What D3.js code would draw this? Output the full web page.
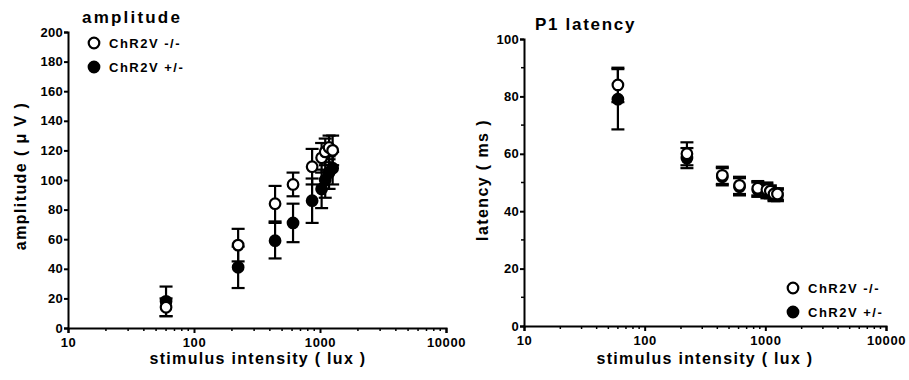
<!DOCTYPE html>
<html>
<head>
<meta charset="utf-8">
<script src="https://cdn.jsdelivr.net/npm/d3@7"></script>
<style>
  body { margin: 0; background: #fff; }
  svg text { font-family: "Liberation Sans", Arial, sans-serif; font-weight: bold; fill: #000; }
</style>
</head>
<body>
<div id="chart"></div>
<script>
// stimulus intensities (lux)
const intensity = [60, 224, 440, 611, 866, 1030, 1100, 1180, 1260];

// amplitude (uV), mean and error
const ampKO = [14, 56, 84, 97, 109, 115, 119, 122, 120];
const ampKOErr = [6, 11, 12, 8, 12, 10, 9, 8, 10];
const ampHet = [18, 41, 59, 71, 86, 94, 100, 105, 108];
const ampHetErr = [10, 14, 12, 13, 15, 13, 12, 11, 11];

// P1 latency (ms), mean and error
const latKO = [84, 60, 52.5, 49, 48, 47.5, 47, 46, 46];
const latKOErr = [6, 4, 3, 3, 2.5, 2.5, 2, 2, 2];
const latHet = [79, 58.5, 52, 48.5, 47.5, 47, 46.5, 45.5, 45.5];
const latHetErr = [10.5, 3.5, 3, 3, 2.5, 2.5, 2, 2, 2];

const xTicks = [10, 100, 1000, 10000];
const legendLabels = ["ChR2V -/-", "ChR2V +/-"];

const svg = d3.select('#chart').append('svg')
  .attr('width', 909)
  .attr('height', 380);

function panel(cfg) {
  const x = d3.scaleLog().domain([10, 10000]).range([cfg.x0, cfg.x1]);
  const y = d3.scaleLinear().domain([0, cfg.yMax]).range([cfg.y0, cfg.y1]);
  const g = svg.append('g');

  // x axis with log minor ticks
  const xa = g.append('g').attr('transform', `translate(0,${cfg.y0})`)
    .call(d3.axisBottom(x).tickValues(xTicks).tickFormat(d3.format('d')).tickSize(5).tickPadding(5));
  xa.selectAll('.tick text').attr('font-size', 13).attr('letter-spacing', 0.6);
  const minors = [];
  for (let d = 10; d < 10000; d *= 10) for (let k = 2; k < 10; k++) minors.push(d * k);
  xa.selectAll('.minor').data(minors).join('line')
    .attr('x1', d => x(d)).attr('x2', d => x(d))
    .attr('y1', 0).attr('y2', 3).attr('stroke', '#000').attr('stroke-width', 1.5);

  // y axis
  const ya = g.append('g').attr('transform', `translate(${cfg.x0},0)`)
    .call(d3.axisLeft(y).tickValues(d3.range(0, cfg.yMax + 1, cfg.yStep)).tickSize(4).tickPadding(1));
  ya.selectAll('.tick text').attr('font-size', 13).attr('letter-spacing', 0.3);
  if (cfg.yMinor) {
    ya.selectAll('.minor').data(d3.range(cfg.yMinor, cfg.yMax, cfg.yStep)).join('line')
      .attr('y1', d => y(d)).attr('y2', d => y(d))
      .attr('x1', 0).attr('x2', -3).attr('stroke', '#000').attr('stroke-width', 1.5);
  }
  g.selectAll('.domain').attr('stroke-width', 2);
  g.selectAll('.tick line').attr('stroke-width', 2);

  // error bars + markers
  const series = [
    { vals: cfg.het, err: cfg.hetErr, fill: '#000' },
    { vals: cfg.ko, err: cfg.koErr, fill: '#fff' }
  ];
  series.forEach(s => {
    const data = intensity.map((v, i) => ({ x: v, y: s.vals[i], e: s.err[i] }));
    const eg = g.append('g').attr('stroke', '#000').attr('stroke-width', 2.2);
    eg.selectAll('.v').data(data).join('line')
      .attr('x1', d => x(d.x)).attr('x2', d => x(d.x))
      .attr('y1', d => y(d.y - d.e)).attr('y2', d => y(d.y + d.e));
    eg.selectAll('.t').data(data).join('line')
      .attr('x1', d => x(d.x) - 6.5).attr('x2', d => x(d.x) + 6.5)
      .attr('y1', d => y(d.y + d.e)).attr('y2', d => y(d.y + d.e));
    eg.selectAll('.b').data(data).join('line')
      .attr('x1', d => x(d.x) - 6.5).attr('x2', d => x(d.x) + 6.5)
      .attr('y1', d => y(d.y - d.e)).attr('y2', d => y(d.y - d.e));
  });
  series.forEach(s => {
    const data = intensity.map((v, i) => ({ x: v, y: s.vals[i] }));
    g.append('g').selectAll('circle').data(data).join('circle')
      .attr('cx', d => x(d.x)).attr('cy', d => y(d.y))
      .attr('r', 5.3).attr('fill', s.fill).attr('stroke', '#000').attr('stroke-width', 2.2);
  });

  // titles and labels
  g.append('text').attr('x', cfg.titleX).attr('y', cfg.titleY)
    .attr('font-size', 17).attr('letter-spacing', cfg.titleLs).text(cfg.title);
  g.append('text')
    .attr('transform', `translate(${cfg.yLabX},${cfg.yLabY}) rotate(-90)`)
    .attr('text-anchor', 'middle').attr('font-size', 16).attr('letter-spacing', 1.4).text(cfg.yLabel);
  g.append('text').attr('x', cfg.xLabX).attr('y', 364)
    .attr('text-anchor', 'middle').attr('font-size', 16).attr('letter-spacing', 1.3)
    .text('stimulus intensity ( lux )');

  // legend
  legendLabels.forEach((lab, i) => {
    const ly = cfg.legY + i * 24;
    g.append('circle').attr('cx', cfg.legX).attr('cy', ly).attr('r', 5.3)
      .attr('fill', i === 0 ? '#fff' : '#000').attr('stroke', '#000').attr('stroke-width', 2.2);
    g.append('text').attr('x', cfg.legX + 15).attr('y', ly + 5)
      .attr('font-size', 13).attr('letter-spacing', 1.5).text(lab);
  });
}

panel({
  x0: 68, x1: 446, y0: 328, y1: 32, yMax: 200, yStep: 20,
  ko: ampKO, koErr: ampKOErr, het: ampHet, hetErr: ampHetErr,
  title: 'amplitude', titleX: 82, titleY: 23, titleLs: 2.2,
  yLabel: 'amplitude ( \u03bc V )', yLabX: 26, yLabY: 176,
  xLabX: 258, legX: 94, legY: 43
});

panel({
  x0: 524, x1: 886, y0: 326, y1: 39, yMax: 100, yStep: 20, yMinor: 10,
  ko: latKO, koErr: latKOErr, het: latHet, hetErr: latHetErr,
  title: 'P1 latency', titleX: 535, titleY: 30, titleLs: 1.7,
  yLabel: 'latency ( ms )', yLabX: 488, yLabY: 180,
  xLabX: 705, legX: 793, legY: 288
});
</script>
</body>
</html>
